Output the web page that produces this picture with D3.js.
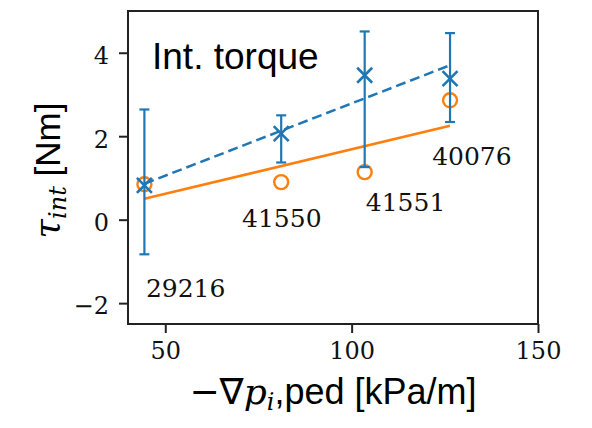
<!DOCTYPE html>
<html>
<head>
<meta charset="utf-8">
<script src="https://cdn.jsdelivr.net/npm/d3@7"></script>
<style>
  html, body { margin: 0; padding: 0; background: #fff; }
  svg { display: block; }
</style>
</head>
<body>
<svg id="chart" width="592" height="428"></svg>
<script>
// shot numbers and measured / modelled intrinsic torque
const shots = ["29216", "41550", "41551", "40076"];
const gradP = [44.4, 81.1, 103.5, 126.4];
const torqueMeas = [0.82, 2.06, 3.46, 3.38];
const errLow = [-0.83, 1.37, 1.26, 2.34];
const errHigh = [2.64, 2.50, 4.51, 4.47];
const torqueModel = [0.85, 0.90, 1.14, 2.86];
// linear fits, values at first and last gradient
const fitMeas = [0.86, 3.70];
const fitModel = [0.50, 2.25];
// shot label anchors (data coords)
const labelX = [44.8, 70.6, 103.8, 121.6];
const labelY = [-1.85, -0.18, 0.21, 1.32];
const xTicks = [50, 100, 150];
const yTicks = [-2, 0, 2, 4];

const blue = "#1f77b4", orange = "#ff7f0e";
const margin = {left: 128, right: 54, top: 11, bottom: 104};
const W = 592, H = 428;

const svg = d3.select("#chart");
const x = d3.scaleLinear().domain([40, 150]).range([margin.left, W - margin.right]);
const y = d3.scaleLinear().domain([-2.5, 5]).range([H - margin.bottom, margin.top]);

// orange model points
svg.selectAll(".model")
    .data(gradP)
    .enter()
    .append("circle")
    .attr("cx", d => x(d))
    .attr("cy", (d, i) => y(torqueModel[i]))
    .attr("r", 7)
    .attr("fill", "none")
    .attr("stroke", orange)
    .attr("stroke-width", 2.4);

const first = gradP[0], last = gradP[gradP.length - 1];

svg.append("line")
    .attr("x1", x(first)).attr("y1", y(fitModel[0]))
    .attr("x2", x(last)).attr("y2", y(fitModel[1]))
    .attr("stroke", orange)
    .attr("stroke-width", 2.5);

svg.append("line")
    .attr("x1", x(first)).attr("y1", y(fitMeas[0]))
    .attr("x2", x(last)).attr("y2", y(fitMeas[1]))
    .attr("stroke", blue)
    .attr("stroke-width", 2.5)
    .attr("stroke-dasharray", "10,5");

// error bars
const eb = svg.selectAll(".err")
    .data(gradP)
    .enter()
    .append("g")
    .attr("stroke", blue)
    .attr("stroke-width", 2.2);

eb.append("line")
    .attr("x1", d => x(d)).attr("x2", d => x(d))
    .attr("y1", (d, i) => y(errLow[i]))
    .attr("y2", (d, i) => y(errHigh[i]));
eb.append("line")
    .attr("x1", d => x(d) - 5).attr("x2", d => x(d) + 5)
    .attr("y1", (d, i) => y(errLow[i])).attr("y2", (d, i) => y(errLow[i]));
eb.append("line")
    .attr("x1", d => x(d) - 5).attr("x2", d => x(d) + 5)
    .attr("y1", (d, i) => y(errHigh[i])).attr("y2", (d, i) => y(errHigh[i]));

// x markers
const s = 7.5;
eb.append("path")
    .attr("d", (d, i) => {
        const cx = x(d), cy = y(torqueMeas[i]);
        return `M${cx - s},${cy - s}L${cx + s},${cy + s}M${cx - s},${cy + s}L${cx + s},${cy - s}`;
    })
    .attr("stroke-width", 2.6);

// shot labels
svg.selectAll(".shot")
    .data(shots)
    .enter()
    .append("text")
    .attr("x", (d, i) => x(labelX[i]))
    .attr("y", (d, i) => y(labelY[i]))
    .attr("font-family", "DejaVu Serif")
    .attr("font-size", 25)
    .attr("fill", "#111")
    .text(d => d);

// axes
const xAxis = svg.append("g")
    .attr("transform", `translate(0,${H - margin.bottom})`)
    .call(d3.axisBottom(x).tickValues(xTicks).tickSize(9).tickPadding(9));
const yAxis = svg.append("g")
    .attr("transform", `translate(${margin.left},0)`)
    .call(d3.axisLeft(y).tickValues(yTicks).tickSize(9).tickPadding(10)
        .tickFormat(d => d < 0 ? "\u2212" + Math.abs(d) : d));

[xAxis, yAxis].forEach(a => {
    a.select(".domain").remove();
    a.selectAll("line").attr("stroke", "#222").attr("stroke-width", 2);
    a.selectAll("text")
        .attr("font-family", "DejaVu Serif")
        .attr("font-size", 24)
        .attr("fill", "#111");
});
yAxis.selectAll("text").attr("dy", "0.45em");

// frame
svg.append("rect")
    .attr("x", margin.left).attr("y", margin.top)
    .attr("width", W - margin.left - margin.right)
    .attr("height", H - margin.top - margin.bottom)
    .attr("fill", "none")
    .attr("stroke", "#222")
    .attr("stroke-width", 2);

svg.append("text")
    .attr("x", 152).attr("y", 69)
    .attr("font-family", "Liberation Sans")
    .attr("font-size", 37)
    .text("Int. torque");

// axis labels
const xl = svg.append("text")
    .attr("x", (margin.left + W - margin.right) / 2)
    .attr("y", 404)
    .attr("text-anchor", "middle")
    .attr("font-family", "Liberation Sans")
    .attr("font-size", 36);
xl.append("tspan").attr("font-family", "DejaVu Sans").text("\u2212\u2207");
xl.append("tspan").attr("font-family", "DejaVu Serif").attr("font-style", "italic").text("p");
xl.append("tspan").attr("font-family", "DejaVu Serif").attr("font-style", "italic")
    .attr("font-size", 24).attr("dy", 6).text("i");
xl.append("tspan").attr("dy", -6).text(",ped [kPa/m]");

const yl = svg.append("text")
    .attr("transform", `translate(60,${(margin.top + H - margin.bottom) / 2 + 3}) rotate(-90)`)
    .attr("text-anchor", "middle")
    .attr("font-family", "Liberation Sans")
    .attr("font-size", 35);
yl.append("tspan").attr("font-family", "DejaVu Serif").attr("font-style", "italic").text("\u03c4");
yl.append("tspan").attr("font-family", "DejaVu Serif").attr("font-style", "italic")
    .attr("font-size", 24).attr("dy", 6).text("int");
yl.append("tspan").attr("dy", -6).text(" [Nm]");
</script>
</body>
</html>
